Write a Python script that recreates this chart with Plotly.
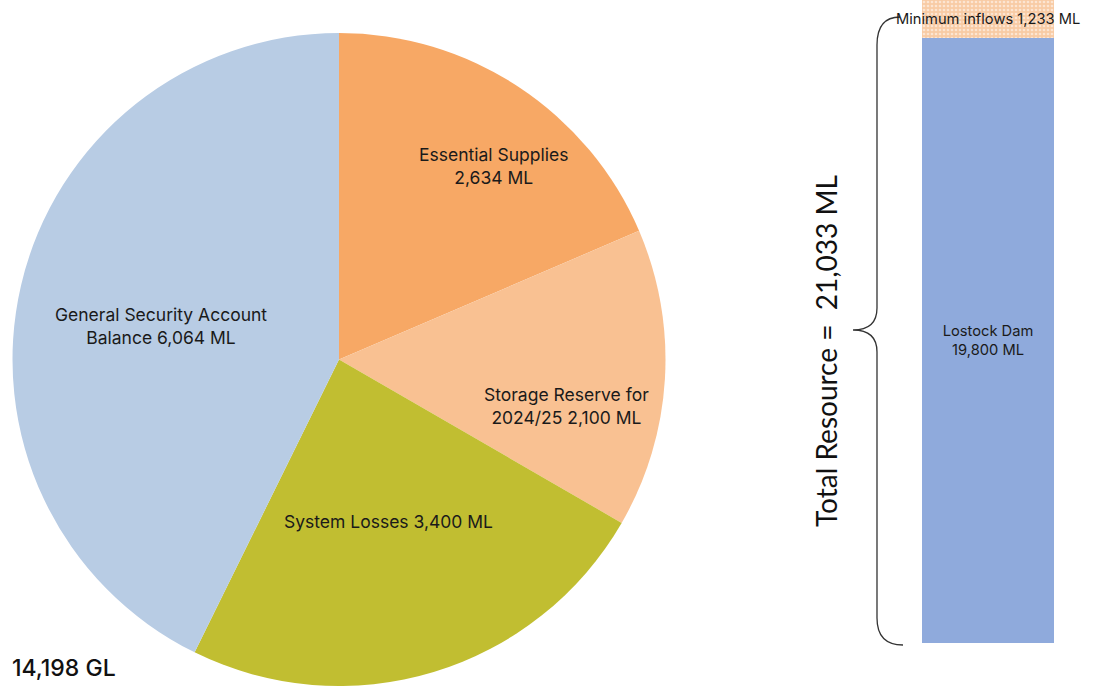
import plotly.graph_objects as go

W, H = 1097, 686

# ---- data ----
pie_labels = ["Essential Supplies", "Storage Reserve for 2024/25", "System Losses", "General Security Account Balance"]
pie_values = [2634, 2100, 3400, 6064]
pie_texts = ["Essential Supplies<br>2,634 ML", "Storage Reserve for<br>2024/25 2,100 ML",
             "System Losses 3,400 ML", "General Security Account<br>Balance 6,064 ML"]
pie_colors = ["#F7A865", "#F9C192", "#C1BE31", "#B8CCE4"]

bar_names = ["Lostock Dam", "Minimum inflows"]
bar_values = [19800, 1233]
bar_texts = ["Lostock Dam<br>19,800 ML", "Minimum inflows 1,233 ML"]
total_text = "Total Resource =\u00a0 21,033 ML"
pie_total_text = "14,198 GL"


def px(x):
    return x / W


def py(y):
    return 1 - y / H


FONT = "Inter"
fig = go.Figure()

fig.add_trace(go.Pie(
    labels=pie_labels, values=pie_values, sort=False, direction="clockwise", rotation=0,
    marker=dict(colors=pie_colors, line=dict(width=0)), textinfo="none",
    domain=dict(x=[px(12), px(666)], y=[0, py(33)]), showlegend=False, hoverinfo="label+value",
))

# pie slice labels
label_pos = [(493, 166), (566, 406), (388, 521), (161, 326)]
for t, (lx, ly) in zip(pie_texts, label_pos):
    fig.add_annotation(x=px(lx), y=py(ly), xref="paper", yref="paper", text=t, showarrow=False,
                       font=dict(family=FONT, size=17.5, color="#1a1a1a"), align="center",
                       xanchor="center", yanchor="middle")

fig.add_annotation(x=px(10), y=py(668), xref="paper", yref="paper", text=pie_total_text, showarrow=False,
                   font=dict(family=FONT, size=23, color="#111111", weight=500), xanchor="left", yanchor="middle")

# stacked bar
fig.add_trace(go.Bar(
    x=[0], y=[bar_values[0]], name=bar_names[0], width=1, xaxis="x2", yaxis="y2",
    marker=dict(color="#8FAADC", line=dict(width=0)), text=[bar_texts[0]], textposition="inside",
    insidetextanchor="middle", textfont=dict(family=FONT, size=14.7, color="#1a1a1a"), showlegend=False,
))
fig.add_trace(go.Bar(
    x=[0], y=[bar_values[1]], name=bar_names[1], width=1, xaxis="x2", yaxis="y2",
    marker=dict(color="#F8CBA4", line=dict(width=0),
                pattern=dict(shape=".", fgcolor="white", fillmode="overlay", size=4, solidity=0.35)),
    showlegend=False,
))
fig.add_annotation(x=0, y=bar_values[0] + bar_values[1] / 2, xref="x2", yref="y2", text=bar_texts[1],
                   showarrow=False, font=dict(family=FONT, size=14.7, color="#1a1a1a"),
                   xanchor="center", yanchor="middle")

fig.add_annotation(x=px(826), y=py(351), xref="paper", yref="paper", text=total_text, showarrow=False,
                   textangle=-90, font=dict(family="Lato", size=28, color="#111111"),
                   xanchor="center", yanchor="middle")

# brace
pts = [
    ("M", [(900, 17)]), ("Q", [(877, 17), (877, 45)]), ("L", [(877, 308)]),
    ("Q", [(877, 330), (853, 330)]), ("Q", [(877, 330), (877, 352)]), ("L", [(877, 618)]),
    ("Q", [(877, 645), (903, 645)]),
]
path = " ".join(c + " " + " ".join(f"{px(a):.5f},{py(b):.5f}" for a, b in p) for c, p in pts)
fig.add_shape(type="path", path=path, xref="paper", yref="paper", line=dict(color="#333333", width=1.3))

fig.update_layout(
    width=W, height=H, margin=dict(l=0, r=0, t=0, b=0), paper_bgcolor="white", plot_bgcolor="white",
    barmode="stack", bargap=0,
    xaxis2=dict(domain=[px(922), px(1054)], range=[-0.5, 0.5], visible=False, anchor="y2", fixedrange=True),
    yaxis2=dict(domain=[py(643), 1], range=[0, sum(bar_values)], visible=False, anchor="x2", fixedrange=True),
    xaxis=dict(visible=False), yaxis=dict(visible=False),
)

fig.write_html("out.html", config={"displayModeBar": False},
               post_script="document.body.style.margin='0';document.body.style.overflow='hidden';")
